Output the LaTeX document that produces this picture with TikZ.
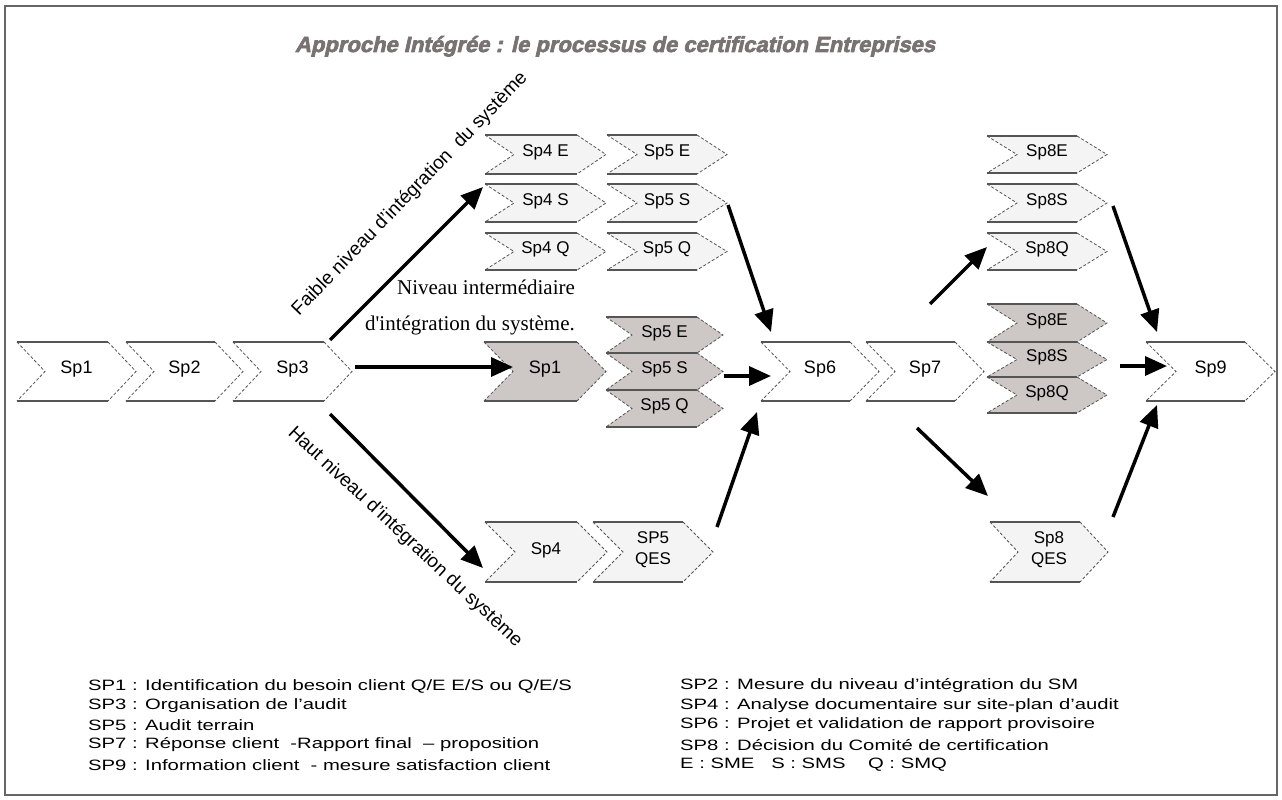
\documentclass[tikz,border=0pt]{standalone}
\usepackage{fontspec}
\setmainfont{Liberation Sans}
\newfontfamily\seriffont{Liberation Serif}
\newfontfamily\titlefont[FakeBold=3,FakeSlant=0.22]{Liberation Sans Bold}
\usetikzlibrary{arrows.meta}
\definecolor{edgegray}{HTML}{555555}
\definecolor{lightfill}{HTML}{F4F4F4}
\definecolor{midfill}{HTML}{CDC7C5}
\definecolor{titlegray}{HTML}{787372}
\definecolor{framegray}{HTML}{666666}
\tikzset{
  chevdash/.style={edgegray, line width=0.8pt, dash pattern=on 3pt off 2pt},
  chevedge/.style={edgegray, line width=1.6pt},
  chevtext/.style={inner sep=0pt, align=center, font=\fontsize{17}{21}\selectfont},
  bigtext/.style={chevtext, font=\fontsize{18}{21}\selectfont},
  flow/.style={line width=3.5pt, -{Triangle[length=22pt,width=19pt]}},
  legend/.style={anchor=west, inner sep=0pt, font=\fontsize{15}{17}\selectfont},
  slanted/.style={inner sep=0pt, font=\fontsize{19}{21}\selectfont},
  midlabel/.style={inner sep=0pt, font=\seriffont\fontsize{21}{23}\selectfont}
}
% name, xl, yt, xr, yb, depth, fill, text style, label
\newcommand\chev[9]{%
  \fill[#7] (#2,#3) -- (#4,#3) -- ({#4+#6},{(#3+#5)/2}) -- (#4,#5) -- (#2,#5) -- ({#2+#6},{(#3+#5)/2}) -- cycle;
  \draw[chevdash] (#2,#3) -- ({#2+#6},{(#3+#5)/2}) -- (#2,#5);
  \draw[chevdash] (#4,#3) -- ({#4+#6},{(#3+#5)/2}) -- (#4,#5);
  \draw[chevedge] (#2,#3) -- (#4,#3) (#2,#5) -- (#4,#5);
  \node[#8] (#1) at ({(#2+#4+#6)/2},{(#3+#5)/2-2}) {#9};
}
\begin{document}
\begin{tikzpicture}[x=1pt,y=-1pt]
\useasboundingbox (0,0) rectangle (1282,800);
\fill[white] (0,0) rectangle (1282,800);
\draw[framegray, line width=2pt] (5,6) rectangle (1277,795);

% title
\node[titlegray, anchor=base, inner sep=0pt] (title) at (615,52)
  {\resizebox{640pt}{16pt}{\titlefont Approche Intégrée : le processus de certification Entreprises}};

% main row
\chev{sp1}{17}{342}{108}{401}{28}{white}{bigtext}{Sp1}
\chev{sp2}{126}{342}{215}{401}{28}{white}{bigtext}{Sp2}
\chev{sp3}{233}{342}{324}{401}{28}{white}{bigtext}{Sp3}
\chev{sp6}{761}{342}{850}{401}{29}{white}{bigtext}{Sp6}
\chev{sp7}{866}{342}{955}{401}{29}{white}{bigtext}{Sp7}
\chev{sp9}{1146}{342}{1245}{401}{30}{white}{bigtext}{Sp9}

% upper branch
\chev{sp4e}{485}{135}{577}{174}{29}{lightfill}{chevtext}{Sp4 E}
\chev{sp5e}{607}{135}{697}{174}{30}{lightfill}{chevtext}{Sp5 E}
\chev{sp4s}{485}{184}{577}{222}{29}{lightfill}{chevtext}{Sp4 S}
\chev{sp5s}{607}{184}{697}{222}{30}{lightfill}{chevtext}{Sp5 S}
\chev{sp4q}{485}{233}{577}{270}{29}{lightfill}{chevtext}{Sp4 Q}
\chev{sp5q}{607}{233}{697}{270}{30}{lightfill}{chevtext}{Sp5 Q}

% middle branch
\chev{sp1m}{484}{342}{577}{401}{29}{midfill}{bigtext}{Sp1}
\chev{sp5qm}{606}{390}{697}{427}{26}{midfill}{chevtext}{Sp5 Q}
\chev{sp5sm}{606}{353}{697}{390}{26}{midfill}{chevtext}{Sp5 S}
\chev{sp5em}{606}{317}{697}{353}{26}{midfill}{chevtext}{Sp5 E}

% lower branch
\chev{sp4l}{485}{522}{577}{582}{30}{lightfill}{chevtext}{Sp4}
\chev{sp5l}{593}{522}{683}{582}{30}{lightfill}{chevtext}{SP5\\QES}

% Sp8 upper
\chev{sp8e}{987}{136}{1077}{173}{30}{lightfill}{chevtext}{Sp8E}
\chev{sp8s}{987}{184}{1077}{222}{30}{lightfill}{chevtext}{Sp8S}
\chev{sp8q}{987}{233}{1077}{270}{30}{lightfill}{chevtext}{Sp8Q}
% Sp8 middle
\chev{sp8qm}{987}{377}{1077}{413}{30}{midfill}{chevtext}{Sp8Q}
\chev{sp8sm}{987}{342}{1077}{377}{30}{midfill}{chevtext}{Sp8S}
\chev{sp8em}{987}{304}{1077}{342}{30}{midfill}{chevtext}{Sp8E}
% Sp8 lower
\chev{sp8l}{990}{522}{1080}{582}{28}{lightfill}{chevtext}{Sp8\\QES}

% arrow end points
\coordinate (a1s) at (330,340);  \coordinate (a1e) at (483,187);
\coordinate (a2s) at (355,367);  \coordinate (a2e) at (513,367);
\coordinate (a3s) at (330,414);  \coordinate (a3e) at (483,568);
\coordinate (a4s) at (728,205);  \coordinate (a4e) at (771,332);
\coordinate (a5s) at (724,376);  \coordinate (a5e) at (771,376);
\coordinate (a6s) at (717,527);  \coordinate (a6e) at (757,412);
\coordinate (a7s) at (930,304);  \coordinate (a7e) at (987,247);
\coordinate (a8s) at (917,428);  \coordinate (a8e) at (988,496);
\coordinate (a9s) at (1113,206); \coordinate (a9e) at (1157,332);
\coordinate (a10s) at (1120,366); \coordinate (a10e) at (1167,366);
\coordinate (a11s) at (1113,517); \coordinate (a11e) at (1157,405);

\draw[flow] (a1s) -- (a1e);
\draw[flow] (a2s) -- (a2e);
\draw[flow] (a3s) -- (a3e);
\draw[flow] (a4s) -- (a4e);
\draw[flow] (a5s) -- (a5e);
\draw[flow] (a6s) -- (a6e);
\draw[flow] (a7s) -- (a7e);
\draw[flow] (a8s) -- (a8e);
\draw[flow] (a9s) -- (a9e);
\draw[flow] (a10s) -- (a10e);
\draw[flow] (a11s) -- (a11e);

% branch labels
\node[slanted, rotate=46] (lowlbl) at (410,194) {Faible niveau d'intégration\ \ du système};
\node[slanted, rotate=-43] (highlbl) at (405,537) {Haut niveau d'intégration du système};
\node[midlabel] (mid1) at (486,287) {Niveau intermédiaire};
\node[midlabel] (mid2) at (470,325) {d'intégration du système.};

% legend
\node[legend] (l1) at (88,686) {\scalebox{1.35}[1]{SP1 : Identification du besoin client Q/E E/S ou Q/E/S}};
\node[legend] (l3) at (88,706) {\scalebox{1.35}[1]{SP3 : Organisation de l'audit}};
\node[legend] (l5) at (88,725) {\scalebox{1.35}[1]{SP5 : Audit terrain}};
\node[legend] (l7) at (88,745) {\scalebox{1.35}[1]{SP7 : Réponse client\ \ -Rapport final\ \ – proposition}};
\node[legend] (l9) at (88,765) {\scalebox{1.35}[1]{SP9 : Information client\ \ - mesure satisfaction client}};
\node[legend] (l2) at (680,686) {\scalebox{1.35}[1]{SP2 : Mesure du niveau d'intégration du SM}};
\node[legend] (l4) at (680,706) {\scalebox{1.35}[1]{SP4 : Analyse documentaire sur site-plan d'audit}};
\node[legend] (l6) at (680,725) {\scalebox{1.35}[1]{SP6 : Projet et validation de rapport provisoire}};
\node[legend] (l8) at (680,745) {\scalebox{1.35}[1]{SP8 : Décision du Comité de certification}};
\node[legend] (le) at (680,765) {\scalebox{1.35}[1]{E : SME\ \ \ S : SMS\ \ \ \ Q : SMQ}};
\end{tikzpicture}
\end{document}
